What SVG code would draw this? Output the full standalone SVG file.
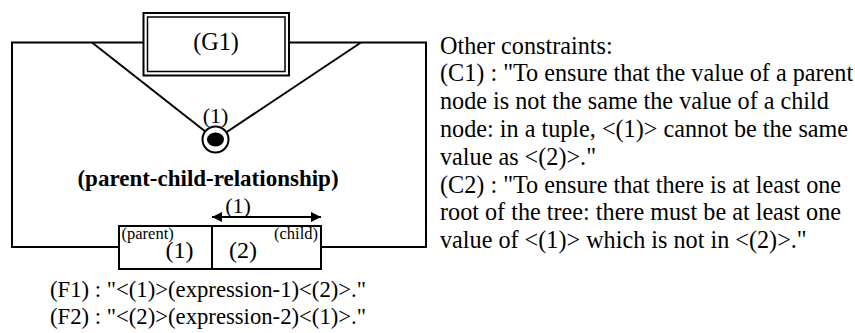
<svg xmlns="http://www.w3.org/2000/svg" width="855" height="333" viewBox="0 0 855 333">
<style>
text{font-family:"Liberation Serif","Times New Roman",serif;fill:#000}
.t{font-size:24.2px}
.f{font-size:22.7px}
.m{font-size:22px}
.c{font-size:24px}
.s{font-size:16.5px}
.b{font-size:23px;font-weight:bold}
.ln{stroke:#000;stroke-width:2;fill:none}
</style>
<defs>
<marker id="ah" viewBox="0 0 10 10" refX="10" refY="5" markerWidth="11" markerHeight="10" markerUnits="userSpaceOnUse" orient="auto-start-reverse">
<path d="M0,0 L10,5 L0,10 Z" fill="#000"/>
</marker>
</defs>
<rect width="855" height="333" fill="#fff"/>
<g id="connectors">
<polyline class="ln" points="143.5,42.5 12,42.5 12,247 119,247"/>
<polyline class="ln" points="289,42.5 426,42.5 426,247 321,247"/>
<line class="ln" x1="92" y1="42.5" x2="215.5" y2="139.5"/>
<line class="ln" x1="361" y1="42.5" x2="215.5" y2="139.5"/>
<line class="ln" x1="212" y1="217" x2="321" y2="217" marker-start="url(#ah)" marker-end="url(#ah)"/>
<text class="m" x="238" y="213" text-anchor="middle">(1)</text>
</g>
<g id="G1">
<rect x="143.5" y="13" width="145.5" height="62.5" fill="#fff" stroke="#000" stroke-width="2"/>
<rect x="147.5" y="17" width="137.5" height="54.5" fill="none" stroke="#000" stroke-width="1.5"/>
<text class="t" x="216" y="50" text-anchor="middle">(G1)</text>
</g>
<g id="relationship">
<text class="m" x="215.5" y="123" text-anchor="middle">(1)</text>
<circle cx="215.5" cy="139.5" r="13" fill="#fff" stroke="#000" stroke-width="2"/>
<ellipse cx="215.5" cy="139.5" rx="8.5" ry="7" fill="#000"/>
<text class="b" x="208" y="186" text-anchor="middle">(parent-child-relationship)</text>
</g>
<g id="table">
<rect x="119" y="226" width="202" height="43" fill="#fff" stroke="#000" stroke-width="2"/>
<line class="ln" x1="212" y1="226" x2="212" y2="269"/>
<text class="s" x="121.5" y="239">(parent)</text>
<text class="c" x="179.5" y="258" text-anchor="middle">(1)</text>
<text class="c" x="243" y="258" text-anchor="middle">(2)</text>
<text class="s" x="318" y="239" text-anchor="end">(child)</text>
</g>
<g id="formulas">
<text class="f" x="50" y="297">(F1) : "&lt;(1)&gt;(expression-1)&lt;(2)&gt;."</text>
<text class="f" x="50" y="324">(F2) : "&lt;(2)&gt;(expression-2)&lt;(1)&gt;."</text>
</g>
<g id="constraints">
<text class="t" x="440" y="53.5">Other constraints:</text>
<text class="t" x="440" y="81.3">(C1) : "To ensure that the value of a parent</text>
<text class="t" x="440" y="109.1">node is not the same the value of a child</text>
<text class="t" x="440" y="136.9">node: in a tuple, &lt;(1)&gt; cannot be the same</text>
<text class="t" x="440" y="164.7">value as &lt;(2)&gt;."</text>
<text class="t" x="440" y="192.5">(C2) : "To ensure that there is at least one</text>
<text class="t" x="440" y="220.3">root of the tree: there must be at least one</text>
<text class="t" x="440" y="248.1">value of &lt;(1)&gt; which is not in &lt;(2)&gt;."</text>
</g>
</svg>
